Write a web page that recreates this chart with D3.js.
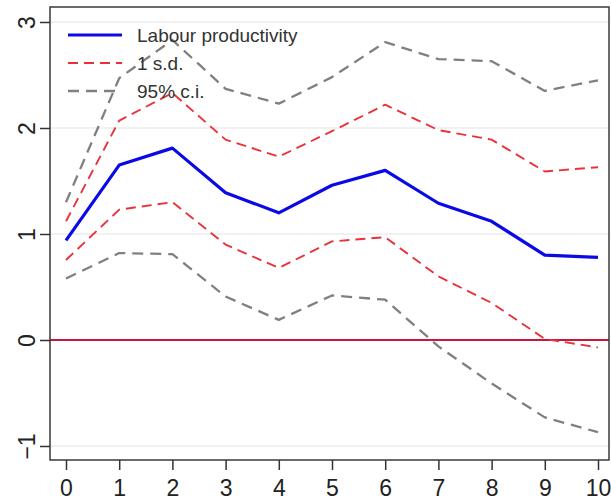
<!DOCTYPE html>
<html>
<head>
<meta charset="utf-8">
<script src="https://cdn.jsdelivr.net/npm/d3@7"></script>
<style>
  html, body { margin: 0; padding: 0; background: #fff; }
  svg { display: block; font-family: "Liberation Sans", Arial, sans-serif; }
</style>
</head>
<body>
<svg id="chart" width="611" height="504"></svg>
<script>
// Impulse response horizons
const horizons = [0, 1, 2, 3, 4, 5, 6, 7, 8, 9, 10];
// Point estimate
const labourProductivity = [0.94, 1.65, 1.81, 1.39, 1.20, 1.46, 1.60, 1.29, 1.12, 0.80, 0.78];
// One standard deviation band
const sdUpper = [1.12, 2.07, 2.33, 1.89, 1.73, 1.97, 2.22, 1.98, 1.89, 1.59, 1.63];
const sdLower = [0.755, 1.23, 1.30, 0.90, 0.68, 0.93, 0.97, 0.60, 0.35, 0.01, -0.07];
// 95% confidence band
const ciUpper = [1.30, 2.47, 2.83, 2.37, 2.23, 2.48, 2.81, 2.65, 2.63, 2.35, 2.45];
const ciLower = [0.58, 0.82, 0.81, 0.41, 0.19, 0.42, 0.38, -0.06, -0.41, -0.73, -0.87];
// Axis ticks
const yTicks = [-1, 0, 1, 2, 3];
const xTicks = horizons;
const legendLabels = ["Labour productivity", "1 s.d.", "95% c.i."];

const svg = d3.select("#chart");
const frame = { left: 50, right: 609, top: 7, bottom: 460 };

const x = d3.scaleLinear().domain([0, 10]).range([66, 598]);
const y = d3.scaleLinear().domain([-1, 3]).range([446, 22]);

// Gridlines
svg.append("g")
  .selectAll("line")
  .data(yTicks.filter(d => d !== 0))
  .join("line")
  .attr("x1", frame.left).attr("x2", frame.right)
  .attr("y1", d => y(d)).attr("y2", d => y(d))
  .attr("stroke", "#ececec").attr("stroke-width", 1.5);

// Zero reference line
svg.append("line")
  .attr("x1", frame.left).attr("x2", frame.right)
  .attr("y1", y(0)).attr("y2", y(0))
  .attr("stroke", "#c8173a").attr("stroke-width", 2);

const line = d3.line().x((d, i) => x(horizons[i])).y(d => y(d));

const series = [
  { values: ciUpper, color: "#808080", width: 2.3, dash: "11,7" },
  { values: ciLower, color: "#808080", width: 2.3, dash: "11,7" },
  { values: sdUpper, color: "#e8323c", width: 1.9, dash: "10,6" },
  { values: sdLower, color: "#e8323c", width: 1.9, dash: "10,6" },
  { values: labourProductivity, color: "#0a0ae6", width: 3.2, dash: null }
];

svg.append("g")
  .selectAll("path")
  .data(series)
  .join("path")
  .attr("d", d => line(d.values))
  .attr("fill", "none")
  .attr("stroke", d => d.color)
  .attr("stroke-width", d => d.width)
  .attr("stroke-dasharray", d => d.dash)
  .attr("stroke-linejoin", "round");

// Plot frame
svg.append("rect")
  .attr("x", frame.left).attr("y", frame.top)
  .attr("width", frame.right - frame.left)
  .attr("height", frame.bottom - frame.top)
  .attr("fill", "none").attr("stroke", "#3a3a3a").attr("stroke-width", 1.5);

// Y axis, labels rotated to read upwards
const yAxis = d3.axisLeft(y).tickValues(yTicks).tickSize(10).tickFormat(d3.format("d"));
const gy = svg.append("g").attr("transform", `translate(${frame.left},0)`).call(yAxis);
gy.select(".domain").remove();
gy.selectAll(".tick line").attr("stroke", "#333").attr("stroke-width", 1.5);
gy.selectAll(".tick text")
  .attr("font-size", 23).attr("fill", "#222")
  .attr("text-anchor", "middle")
  .attr("x", null).attr("dy", null)
  .attr("transform", "translate(-15,0) rotate(-90)");

// X axis
const xScaleAxis = d3.axisBottom(x).tickValues(xTicks).tickSize(10).tickPadding(10).tickFormat(d3.format("d"));
const gx = svg.append("g").attr("transform", `translate(0,${frame.bottom})`).call(xScaleAxis);
gx.select(".domain").remove();
gx.selectAll(".tick line").attr("stroke", "#333").attr("stroke-width", 1.5);
gx.selectAll(".tick text").attr("font-size", 23).attr("fill", "#222");

// Legend
const legend = svg.append("g");
[series[4], series[2], series[0]].forEach((s, i) => {
  const ly = 35 + i * 28;
  legend.append("line")
    .attr("x1", 68).attr("x2", 122)
    .attr("y1", ly).attr("y2", ly)
    .attr("stroke", s.color).attr("stroke-width", s.width)
    .attr("stroke-dasharray", s.dash);
  legend.append("text")
    .attr("x", 137).attr("y", ly + 7)
    .attr("font-size", 19).attr("fill", "#333")
    .text(legendLabels[i]);
});
</script>
</body>
</html>
